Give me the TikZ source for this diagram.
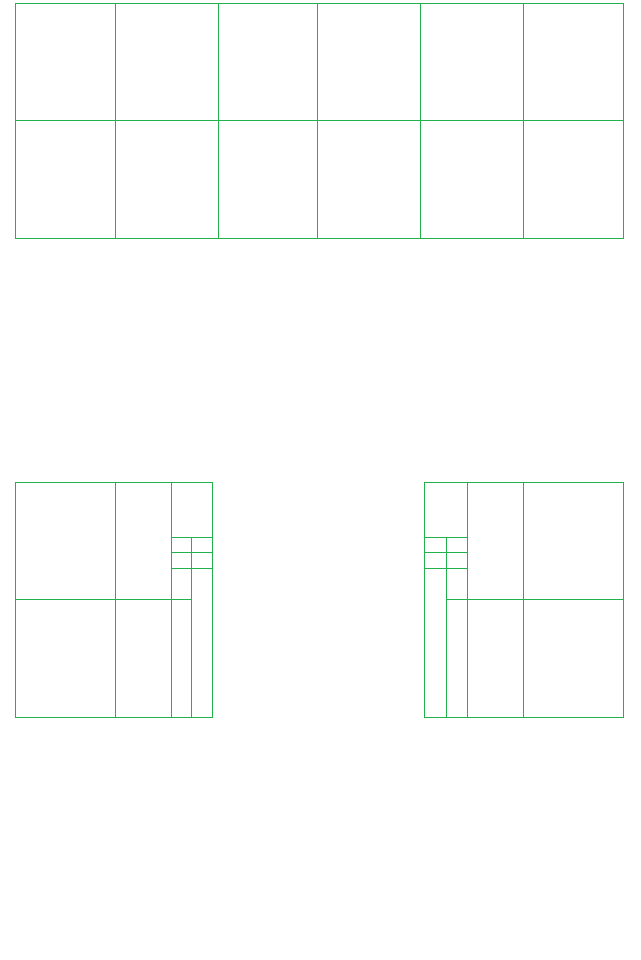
\documentclass[tikz,border=0pt]{standalone}
\usepackage{tikz}
\definecolor{grn}{RGB}{34,177,76}
\tikzstyle{cut}=[draw=grn, line width=.75pt]

\begin{document}
\begin{tikzpicture}[x=.75pt, y=-.75pt]
\useasboundingbox (0,0) rectangle (640,960);
% top sheet
\draw[cut] (15.3,3.3) rectangle (623.3,238.3);
\draw[cut] (15.3,120.3)--(623.3,120.3);
\foreach \x in {115.3,218.3,317.3,420.3,523.3}
  \draw[cut] (\x,3.3)--(\x,238.3);
% bottom left sheet
\draw[cut] (15.3,482.3) rectangle (212.3,717.3);
\draw[cut] (115.3,482.3)--(115.3,717.3);
\draw[cut] (171.3,482.3)--(171.3,717.3);
\draw[cut] (15.3,599.3)--(191.3,599.3);
\draw[cut] (191.3,537.3)--(191.3,717.3);
\foreach \y in {537.3,552.3,568.3}
  \draw[cut] (171.3,\y)--(212.3,\y);
% bottom right sheet
\draw[cut] (424.3,482.3) rectangle (623.3,717.3);
\draw[cut] (467.3,482.3)--(467.3,717.3);
\draw[cut] (523.3,482.3)--(523.3,717.3);
\draw[cut] (446.3,599.3)--(623.3,599.3);
\draw[cut] (446.3,537.3)--(446.3,717.3);
\foreach \y in {537.3,552.3,568.3}
  \draw[cut] (424.3,\y)--(467.3,\y);
\end{tikzpicture}
\end{document}
